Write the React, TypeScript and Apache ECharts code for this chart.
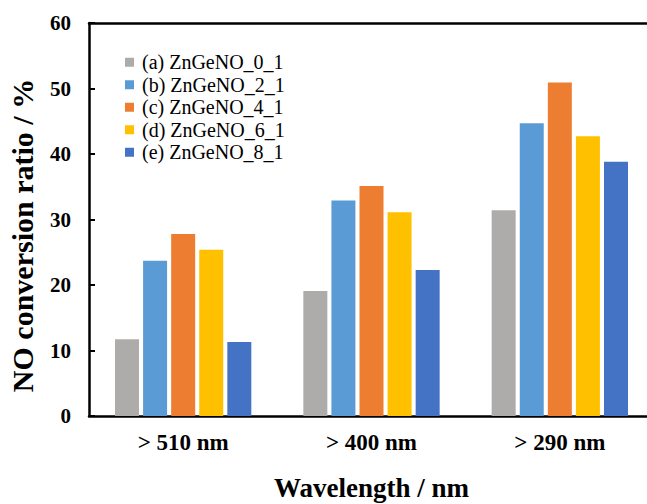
import React, { useEffect, useRef } from "react";
import * as echarts from "echarts";

const categories = ["> 510 nm", "> 400 nm", "> 290 nm"];
const seriesNames = [
  "(a) ZnGeNO_0_1",
  "(b) ZnGeNO_2_1",
  "(c) ZnGeNO_4_1",
  "(d) ZnGeNO_6_1",
  "(e) ZnGeNO_8_1",
];
const valuesA = [11.7, 19.1, 31.4];
const valuesB = [23.7, 32.9, 44.7];
const valuesC = [27.8, 35.1, 50.9];
const valuesD = [25.4, 31.1, 42.7];
const valuesE = [11.3, 22.3, 38.8];
const colors = ["#AEABAB", "#5B9BD5", "#ED7D31", "#FFC000", "#4472C4"];
const yAxisTitle = "NO conversion ratio / %";
const xAxisTitle = "Wavelength / nm";

export default function App() {
  const ref = useRef<HTMLDivElement>(null);
  useEffect(() => {
    if (!ref.current) return;
    const chart = echarts.init(ref.current, null, { renderer: "svg" });
    const all = [valuesA, valuesB, valuesC, valuesD, valuesE];
    const font = "'Liberation Serif', 'Times New Roman', serif";
    chart.setOption({
      animation: false,
      backgroundColor: "#ffffff",
      textStyle: { fontFamily: font },
      grid: { left: 89, top: 23, width: 565, height: 393, outerBoundsMode: "none", containLabel: false },
      legend: {
        orient: "vertical",
        left: 125,
        top: 51,
        padding: 0,
        itemWidth: 9,
        itemHeight: 9,
        itemGap: 0,
        icon: "rect",
        textStyle: { fontFamily: font, fontSize: 20, lineHeight: 22.5, color: "#000", padding: [0, 0, 0, 3] },
        data: seriesNames,
      },
      graphic: [
        {
          type: "text",
          x: 22,
          y: 235.5,
          rotation: Math.PI / 2,
          style: {
            text: yAxisTitle,
            fontFamily: font,
            fontWeight: "bold",
            fontSize: 30,
            fill: "#000",
            align: "center",
            verticalAlign: "middle",
          },
        },
      ],
      xAxis: [
        {
          type: "category",
          data: categories,
          axisLine: { lineStyle: { color: "#000", width: 2.5 } },
          axisTick: { show: false },
          axisLabel: { color: "#000", fontWeight: "bold", fontSize: 23, margin: 15, fontFamily: font },
          name: xAxisTitle,
          nameLocation: "middle",
          nameGap: 58,
          nameTextStyle: { color: "#000", fontWeight: "bold", fontSize: 27, fontFamily: font },
        },
        {
          type: "category",
          position: "top",
          data: categories,
          axisLine: { lineStyle: { color: "#000", width: 2.5 } },
          axisTick: { show: false },
          axisLabel: { show: false },
        },
      ],
      yAxis: {
        type: "value",
        min: 0,
        max: 60,
        interval: 10,
        axisLine: { show: true, lineStyle: { color: "#000", width: 2.5 } },
        axisTick: { show: true, inside: true, length: 6, lineStyle: { color: "#000", width: 2 } },
        splitLine: { show: false },
        axisLabel: { color: "#000", fontWeight: "bold", fontSize: 21, margin: 18, fontFamily: font },
      },
      series: seriesNames.map((n, i) => ({
        name: n,
        type: "bar",
        data: all[i],
        barWidth: 24,
        barGap: "17%",
        itemStyle: { color: colors[i] },
      })),
    });
    return () => chart.dispose();
  }, []);
  return (
    <div
      ref={ref}
      style={{ position: "fixed", left: 0, top: 0, width: 647, height: 504 }}
    />
  );
}
